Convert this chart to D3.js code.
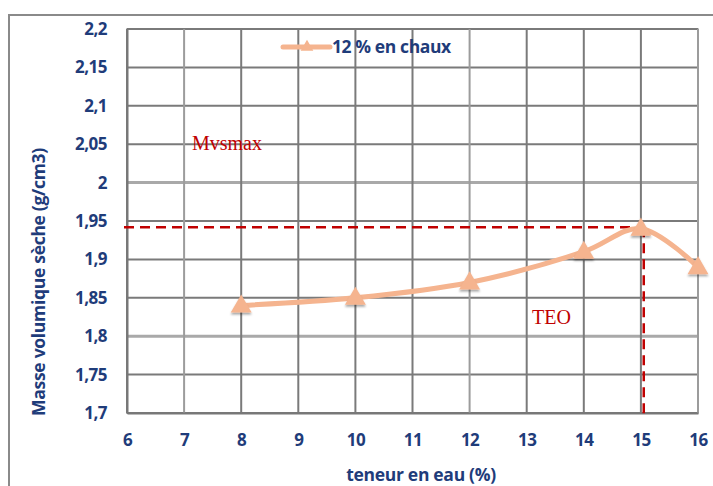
<!DOCTYPE html>
<html>
<head>
<meta charset="utf-8">
<script src="https://cdn.jsdelivr.net/npm/d3@7"></script>
<style>
  html, body { margin: 0; padding: 0; background: #fff; }
  svg { display: block; }
  text { font-family: "Open Sans", "DejaVu Sans Condensed", sans-serif; }
</style>
</head>
<body>
<svg id="chart" width="713" height="486"></svg>
<script>
// Compaction test: dry density vs. water content, 12 % lime
const waterContent = [8, 10, 12, 14, 15, 16];
const dryDensity = [1.84, 1.85, 1.87, 1.91, 1.94, 1.89];
const xTicks = [6, 7, 8, 9, 10, 11, 12, 13, 14, 15, 16];
const yTicks = [1.7, 1.75, 1.8, 1.85, 1.9, 1.95, 2, 2.05, 2.1, 2.15, 2.2];
const seriesName = "12 % en chaux";
const optimum = { x: 15.05, y: 1.942 };

const W = 713, H = 486;
const margin = { left: 127, right: 15, top: 29, bottom: 73 };
const svg = d3.select("#chart");

const x = d3.scaleLinear().domain([6, 16]).range([margin.left, W - margin.right]);
const y = d3.scaleLinear().domain([1.7, 2.2]).range([H - margin.bottom, margin.top]);

const fr = d3.formatLocale({ decimal: ",", thousands: " ", grouping: [3], currency: ["", " €"] });
const fmt = v => fr.format("~g")(v);

const blue = "#1f3c7a";
const red = "#c00000";
const peach = "#f5b48f";
const serif = "'Liberation Serif', 'DejaVu Serif', serif";

// shadow for the markers
const defs = svg.append("defs");
const f = defs.append("filter").attr("id", "shadow").attr("x", "-50%").attr("y", "-50%").attr("width", "200%").attr("height", "200%");
f.append("feDropShadow").attr("dx", 0).attr("dy", 2).attr("stdDeviation", 1.2)
  .attr("flood-color", "#000").attr("flood-opacity", 0.35);

// outer frame
svg.append("rect").attr("x", 9).attr("y", 15).attr("width", W + 10).attr("height", H + 10)
  .attr("fill", "none").attr("stroke", "#8a8a8a").attr("stroke-width", 2);

// plot area border
svg.append("rect")
  .attr("x", margin.left).attr("y", margin.top)
  .attr("width", W - margin.right - margin.left)
  .attr("height", H - margin.bottom - margin.top)
  .attr("fill", "#fff").attr("stroke", "#c8c8c8").attr("stroke-width", 2);

// gridlines
const grid = svg.append("g");
grid.selectAll("line.h").data(yTicks).join("line")
  .attr("x1", margin.left).attr("x2", W - margin.right)
  .attr("y1", d => y(d)).attr("y2", d => y(d))
  .attr("stroke", d => (d === 2 || d === 1.8) ? "#a9a9a9" : "#7a7a7a")
  .attr("stroke-width", d => (d === 2 || d === 1.8) ? 3 : 2);
grid.selectAll("line.v").data(xTicks).join("line")
  .attr("y1", margin.top).attr("y2", H - margin.bottom)
  .attr("x1", d => x(d)).attr("x2", d => x(d))
  .attr("stroke", d => (d === 12 || d === 16 || d === 7) ? "#9c9c9c" : "#7a7a7a")
  .attr("stroke-width", 2);

// axes
const yAxis = svg.append("g").attr("transform", `translate(${margin.left},0)`)
  .call(d3.axisLeft(y).tickValues(yTicks).tickFormat(fmt).tickSize(0).tickPadding(20));
const xAxis = svg.append("g").attr("transform", `translate(0,${H - margin.bottom})`)
  .call(d3.axisBottom(x).tickValues(xTicks).tickFormat(fmt).tickSize(0).tickPadding(21));
[yAxis, xAxis].forEach(a => {
  a.select(".domain").attr("stroke", "#777").attr("stroke-width", 2);
  a.selectAll("text").attr("fill", blue).attr("font-size", 17).attr("font-weight", "bold")
    .attr("letter-spacing", -0.5)
    .style("font-family", "'Open Sans', sans-serif");
});

// axis titles
svg.append("text").attr("x", 421).attr("y", 481).attr("text-anchor", "middle")
  .attr("fill", blue).attr("font-size", 17.5).attr("font-weight", "bold").attr("letter-spacing", -0.3)
  .text("teneur en eau (%)");
svg.append("text").attr("transform", "translate(45,282) rotate(-90)").attr("text-anchor", "middle")
  .attr("fill", blue).attr("font-size", 17.5).attr("font-weight", "bold").attr("letter-spacing", -0.3)
  .text("Masse volumique sèche (g/cm3)");

// optimum reference lines
const ref = svg.append("g").attr("stroke", red).attr("stroke-width", 2.5).attr("stroke-dasharray", "10,6");
ref.append("line").attr("x1", x(6) - 3).attr("x2", x(optimum.x)).attr("y1", y(optimum.y)).attr("y2", y(optimum.y));
ref.append("line").attr("x1", x(optimum.x)).attr("x2", x(optimum.x)).attr("y1", y(optimum.y)).attr("y2", y(1.7) + 5);

// annotations
svg.append("text").attr("x", 192).attr("y", 150).attr("fill", red)
  .attr("font-size", 20).style("font-family", serif).text("Mvsmax");
svg.append("text").attr("x", 532).attr("y", 324).attr("fill", red)
  .attr("font-size", 20).style("font-family", serif).text("TEO");

// series line
const pts = waterContent.map((w, i) => [w, dryDensity[i]]);
const line = d3.line().x(d => x(d[0])).y(d => y(d[1])).curve(d3.curveCatmullRom.alpha(0.5));
svg.append("path").datum(pts).attr("d", line).attr("fill", "none")
  .attr("stroke", peach).attr("stroke-width", 5).attr("stroke-linecap", "round");

const tri = d3.symbol().type(d3.symbolTriangle).size(190);
svg.append("g").selectAll("path").data(pts).join("path")
  .attr("d", tri).attr("transform", d => `translate(${x(d[0])},${y(d[1]) + 1})`)
  .attr("fill", peach).attr("filter", "url(#shadow)");

// legend
const lg = svg.append("g").attr("transform", "translate(283,47)");
lg.append("line").attr("x1", 0).attr("x2", 47).attr("stroke", peach).attr("stroke-width", 5).attr("stroke-linecap", "round");
lg.append("path").attr("d", d3.symbol().type(d3.symbolTriangle).size(70)).attr("transform", "translate(24,0)").attr("fill", peach);
lg.append("text").attr("x", 49).attr("y", 6).attr("fill", blue).attr("font-size", 17.5).attr("font-weight", "bold")
  .attr("letter-spacing", -0.4).text(seriesName);
</script>
</body>
</html>
